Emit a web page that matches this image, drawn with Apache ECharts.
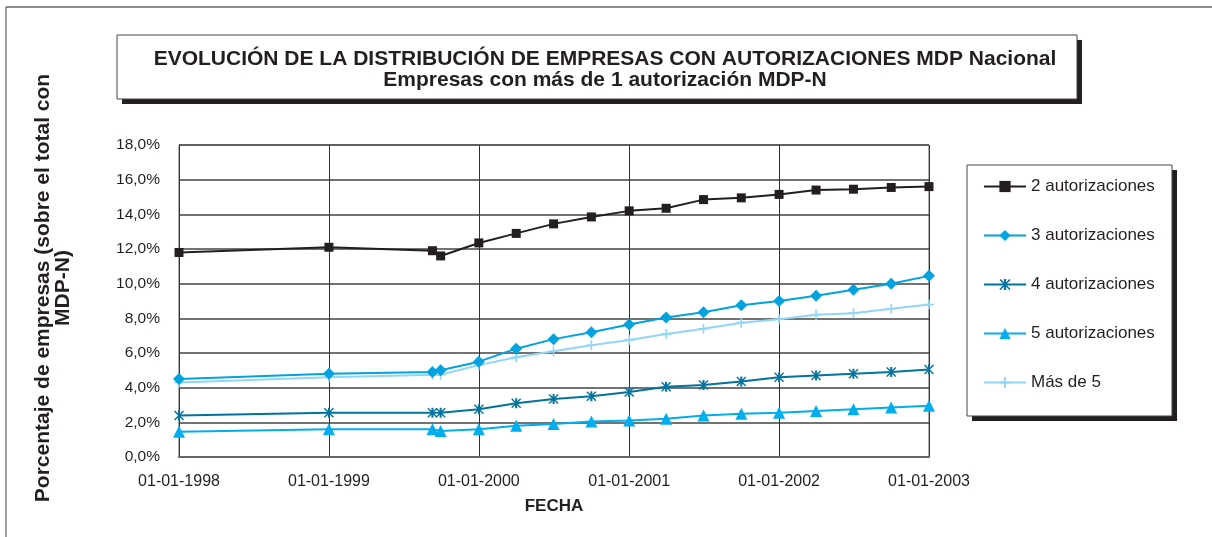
<!DOCTYPE html>
<html>
<head>
<meta charset="utf-8">
<script src="https://cdn.jsdelivr.net/npm/echarts@6/dist/echarts.min.js"></script>
<style>
  html, body { margin: 0; padding: 0; background: #fff; }
  #main { width: 1212px; height: 537px; }
</style>
</head>
<body>
<div id="main"></div>
<script>
// fechas de cada observación
const fechas = ['1998-01-01', '1999-01-01', '1999-09-10', '1999-09-30', '2000-01-01', '2000-04-01',
  '2000-07-01', '2000-10-01', '2001-01-01', '2001-04-01', '2001-07-01', '2001-10-01',
  '2002-01-01', '2002-04-01', '2002-07-01', '2002-10-01', '2003-01-01'];

const aut2 = [11.8, 12.1, 11.9, 11.6, 12.35, 12.9, 13.45, 13.85, 14.2, 14.35, 14.85, 14.95, 15.15, 15.4, 15.45, 15.55, 15.6];
const aut3 = [4.5, 4.8, 4.9, 5.0, 5.5, 6.25, 6.8, 7.2, 7.65, 8.05, 8.35, 8.75, 9.0, 9.3, 9.65, 10.0, 10.45];
const aut4 = [2.4, 2.55, 2.55, 2.55, 2.75, 3.1, 3.35, 3.5, 3.75, 4.05, 4.15, 4.35, 4.6, 4.7, 4.8, 4.9, 5.05];
const aut5 = [1.45, 1.6, 1.6, 1.5, 1.6, 1.8, 1.9, 2.05, 2.1, 2.2, 2.4, 2.5, 2.55, 2.65, 2.75, 2.85, 2.95];
const mas5 = [4.3, 4.6, 4.75, 4.75, 5.3, 5.75, 6.1, 6.45, 6.75, 7.1, 7.4, 7.75, 7.95, 8.2, 8.3, 8.55, 8.8];

const nombres = ['2 autorizaciones', '3 autorizaciones', '4 autorizaciones', '5 autorizaciones', 'Más de 5'];
const colores = ['#231f20', '#00a3e0', '#00739e', '#00aeef', '#8fd6f7'];

const asterisco = 'path://M4,0L6,0L6,10L4,10Z M0,1L1,0L10,9L9,10Z M9,0L10,1L1,10L0,9Z';
const cruz = 'path://M4.2,0L5.8,0L5.8,4.2L10,4.2L10,5.8L5.8,5.8L5.8,10L4.2,10L4.2,5.8L0,5.8L0,4.2L4.2,4.2Z';
const simbolos = ['rect', 'diamond', asterisco, 'triangle', cruz];
const tamanos = [9, 12, 10, 12, 10];

const pad = n => (n < 10 ? '0' : '') + n;

function serie(i, valores) {
  return {
    name: nombres[i],
    type: 'line',
    data: fechas.map((f, k) => [f, valores[k]]),
    symbol: simbolos[i],
    symbolSize: tamanos[i],
    showAllSymbol: true,
    lineStyle: { color: colores[i], width: 2 },
    itemStyle: { color: colores[i] },
    z: 10 - i
  };
}

const chart = echarts.init(document.getElementById('main'));

const option = {
  animation: false,
  textStyle: { fontFamily: 'Liberation Sans, Arial, sans-serif', color: '#231f20' },
  title: {
    text: 'EVOLUCIÓN DE LA DISTRIBUCIÓN DE EMPRESAS CON AUTORIZACIONES MDP Nacional\nEmpresas con más de 1 autorización MDP-N',
    left: 600,
    top: 44,
    textAlign: 'center',
    textStyle: { fontSize: 21, fontWeight: 'bold', color: '#231f20', lineHeight: 21 }
  },
  legend: {
    orient: 'vertical',
    left: 983,
    top: 178,
    padding: 0,
    itemWidth: 42,
    itemHeight: 14,
    itemGap: 32,
    textStyle: { fontSize: 17, color: '#231f20', lineHeight: 14 },
    data: nombres
  },
  grid: {
    left: 179, top: 145, width: 750, height: 312,
    show: true, borderColor: '#666', borderWidth: 1
  },
  xAxis: {
    type: 'time',
    min: '1998-01-01',
    max: '2003-01-01',
    minInterval: 365 * 24 * 3600 * 1000,
    maxInterval: 366 * 24 * 3600 * 1000,
    name: 'FECHA',
    nameLocation: 'middle',
    nameGap: 41,
    nameTextStyle: { fontSize: 17, fontWeight: 'bold', color: '#231f20' },
    axisLine: { lineStyle: { color: '#666', width: 2 } },
    axisTick: { show: false },
    axisLabel: {
      fontSize: 16, color: '#231f20', margin: 17,
      showMinLabel: true, showMaxLabel: true,
      formatter: v => { const d = new Date(v); return pad(d.getDate()) + '-' + pad(d.getMonth() + 1) + '-' + d.getFullYear(); }
    },
    splitLine: { show: true, lineStyle: { color: '#333', width: 1 } }
  },
  yAxis: {
    type: 'value',
    min: 0, max: 18, interval: 2,
    axisLine: { show: true, lineStyle: { color: '#333', width: 1 } },
    axisTick: { show: false },
    axisLabel: {
      fontSize: 15.5, color: '#231f20', margin: 19,
      formatter: v => v.toFixed(1).replace('.', ',') + '%'
    },
    splitLine: { lineStyle: { color: '#444', width: 1.5 } }
  },
  graphic: [
    // marco exterior
    { type: 'line', shape: { x1: 6, y1: 7, x2: 1212, y2: 7 }, style: { stroke: '#666', lineWidth: 1.5 } },
    { type: 'line', shape: { x1: 6, y1: 7, x2: 6, y2: 537 }, style: { stroke: '#444', lineWidth: 1 } },
    // caja del título con sombra
    { type: 'rect', shape: { x: 122, y: 40, width: 960, height: 64 }, style: { fill: '#231f20' }, z: -2 },
    { type: 'rect', shape: { x: 117, y: 35, width: 960, height: 64 }, style: { fill: '#fff', stroke: '#444', lineWidth: 1 }, z: -1 },
    // caja de la leyenda con sombra
    { type: 'rect', shape: { x: 972, y: 170, width: 205, height: 251 }, style: { fill: '#231f20' }, z: -2 },
    { type: 'rect', shape: { x: 967, y: 165, width: 205, height: 251 }, style: { fill: '#fff', stroke: '#444', lineWidth: 1 }, z: -1 },
    // título del eje Y
    {
      type: 'text', x: 53, y: 288, rotation: Math.PI / 2,
      style: {
        text: 'Porcentaje de empresas (sobre el total con\nMDP-N)',
        font: 'bold 21px Liberation Sans, Arial, sans-serif',
        fill: '#231f20', align: 'center', verticalAlign: 'middle', lineHeight: 20
      }
    }
  ],
  series: [
    serie(0, aut2),
    serie(1, aut3),
    serie(2, aut4),
    serie(3, aut5),
    serie(4, mas5)
  ]
};

chart.setOption(option);
</script>
</body>
</html>
